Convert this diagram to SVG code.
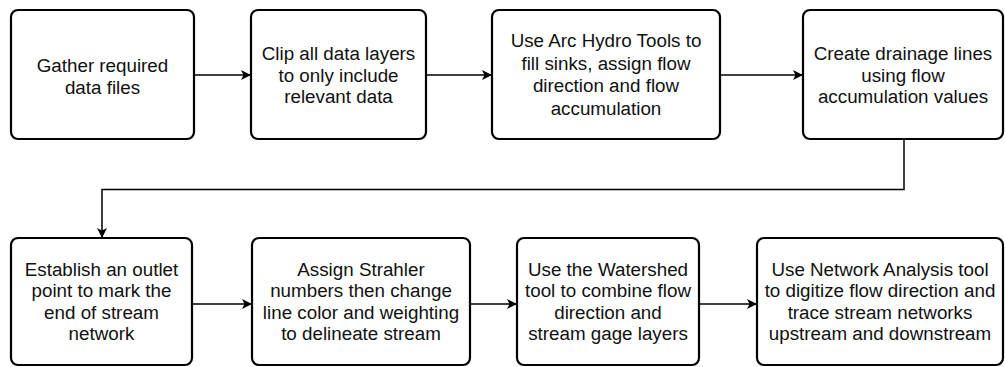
<svg xmlns="http://www.w3.org/2000/svg" width="1005" height="367" viewBox="0 0 1005 367">
<style>
.box{fill:#fff;stroke:#000;stroke-width:2.2}
.t{font-family:"Liberation Sans",Arial,sans-serif;font-size:18.8px;fill:#111;text-anchor:middle}
.c{fill:none;stroke:#000;stroke-width:1.5}
</style>
<defs>
<marker id="ah" viewBox="0 0 10 10" refX="9" refY="5" markerWidth="10" markerHeight="10" markerUnits="userSpaceOnUse" orient="auto">
<path d="M0,0 L10,5 L0,10 L2.5,5 Z" fill="#000"/>
</marker>
</defs>
<rect width="1005" height="367" fill="#fff"/>
<g id="connectors">
<path class="c" d="M194,75 L250,75" marker-end="url(#ah)"/>
<path class="c" d="M426,75 L491,75" marker-end="url(#ah)"/>
<path class="c" d="M720,75 L802,75" marker-end="url(#ah)"/>
<path class="c" d="M904,139 L904,189.5 L102,189.5 L102,237" marker-end="url(#ah)"/>
<path class="c" d="M192,304 L251,304" marker-end="url(#ah)"/>
<path class="c" d="M470,304 L516,304" marker-end="url(#ah)"/>
<path class="c" d="M699,304 L756,304" marker-end="url(#ah)"/>
</g>
<g id="n1"><rect class="box" x="11" y="10" width="183" height="129" rx="7"/>
<text class="t" x="102.5"><tspan x="102.5" y="72">Gather required</tspan><tspan x="102.5" y="94">data files</tspan></text></g>
<g id="n2"><rect class="box" x="251" y="10" width="175" height="129" rx="7"/>
<text class="t"><tspan x="338.5" y="60">Clip all data layers</tspan><tspan x="338.5" y="81.5">to only include</tspan><tspan x="338.5" y="103">relevant data</tspan></text></g>
<g id="n3"><rect class="box" x="492" y="10" width="228" height="129" rx="7"/>
<text class="t"><tspan x="606" y="47">Use Arc Hydro Tools to</tspan><tspan x="606" y="69.5">fill sinks, assign flow</tspan><tspan x="606" y="92">direction and flow</tspan><tspan x="606" y="114.5">accumulation</tspan></text></g>
<g id="n4"><rect class="box" x="803" y="10" width="200" height="129" rx="7"/>
<text class="t"><tspan x="903" y="60">Create drainage lines</tspan><tspan x="903" y="81.5">using flow</tspan><tspan x="903" y="103">accumulation values</tspan></text></g>
<g id="n5"><rect class="box" x="11" y="238" width="181" height="127" rx="7"/>
<text class="t"><tspan x="101.5" y="276">Establish an outlet</tspan><tspan x="101.5" y="297.3">point to mark the</tspan><tspan x="101.5" y="318.6">end of stream</tspan><tspan x="101.5" y="340">network</tspan></text></g>
<g id="n6"><rect class="box" x="252" y="238" width="218" height="127" rx="7"/>
<text class="t"><tspan x="361" y="276">Assign Strahler</tspan><tspan x="361" y="297.3">numbers then change</tspan><tspan x="361" y="318.6">line color and weighting</tspan><tspan x="361" y="340">to delineate stream</tspan></text></g>
<g id="n7"><rect class="box" x="517" y="238" width="182" height="127" rx="7"/>
<text class="t"><tspan x="608" y="276">Use the Watershed</tspan><tspan x="608" y="297.3">tool to combine flow</tspan><tspan x="608" y="318.6">direction and</tspan><tspan x="608" y="340">stream gage layers</tspan></text></g>
<g id="n8"><rect class="box" x="757" y="238" width="246" height="127" rx="7"/>
<text class="t"><tspan x="880" y="276">Use Network Analysis tool</tspan><tspan x="880" y="297.3">to digitize flow direction and</tspan><tspan x="880" y="318.6">trace stream networks</tspan><tspan x="880" y="340">upstream and downstream</tspan></text></g>
</svg>
